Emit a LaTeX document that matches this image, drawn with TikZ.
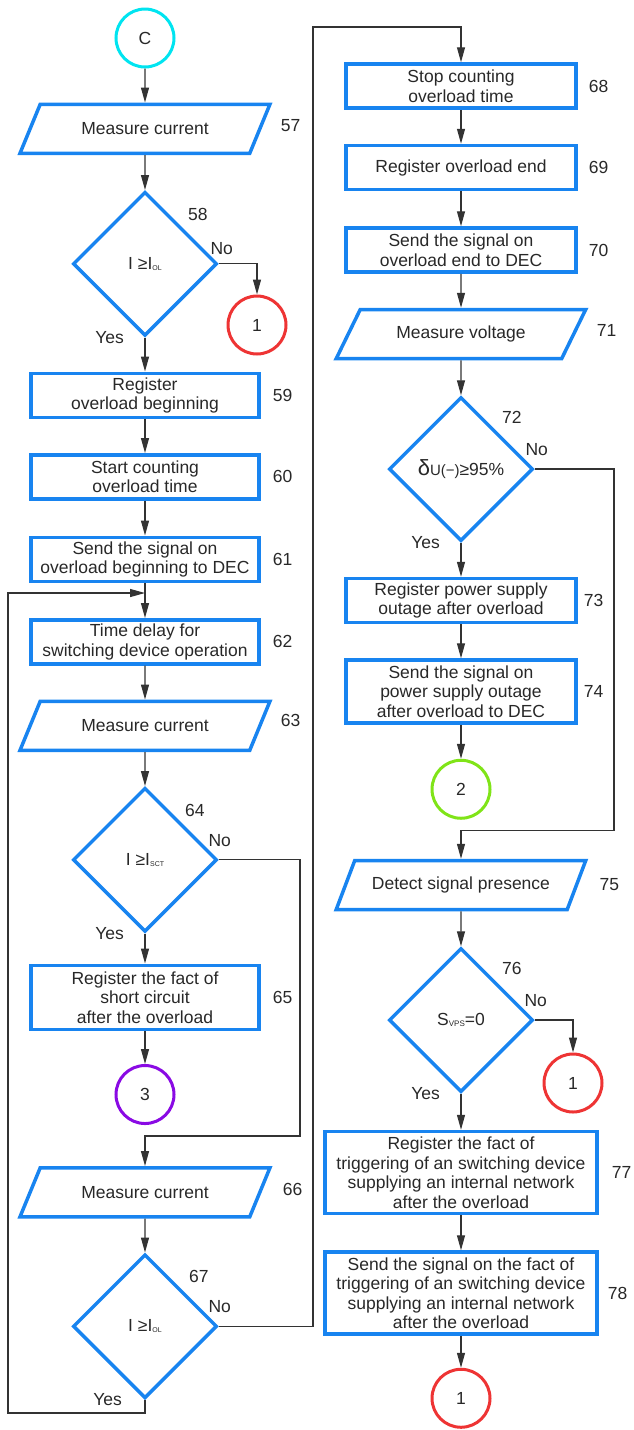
\documentclass[tikz,border=0pt]{standalone}
\usepackage{fontspec}
\setmainfont{Liberation Sans}
\usepackage{tikz}
\usetikzlibrary{arrows.meta,positioning,calc,shapes.geometric}
\definecolor{bblue}{RGB}{24,132,240}
\definecolor{ccyan}{RGB}{0,228,240}
\definecolor{cred}{RGB}{238,52,52}
\definecolor{cgreen}{RGB}{128,228,24}
\definecolor{cpurple}{RGB}{138,10,228}
\definecolor{ink}{RGB}{40,40,40}
\newcommand{\lowsub}[2]{\raisebox{-1pt}{\fontsize{#1}{#1}\selectfont #2}}

\begin{document}
\begin{tikzpicture}[x=1pt, y=-1pt,
  font=\fontsize{17.5}{19.5}\selectfont, text=ink,
  node distance=35pt,
  bx/.style={draw=bblue, line width=3.5pt, align=center,
    minimum width=228pt, minimum height=44pt, inner sep=2pt},
  io/.style={draw=bblue, line width=3.5pt, trapezium,
    trapezium left angle=52, trapezium right angle=128,
    trapezium stretches=true, minimum width=250pt, minimum height=49pt, inner sep=2pt},
  dec/.style={draw=bblue, line width=3.5pt, diamond,
    minimum width=144pt, minimum height=144pt, inner sep=0pt},
  con/.style={circle, line width=3pt, minimum size=58pt, inner sep=0pt},
  num/.style={inner sep=1pt},
  ln/.style={line width=1.2pt, draw=black!80},
  arr/.style={ln, -{Triangle[length=15pt,width=8pt]}}
]
\useasboundingbox (0,0) rectangle (633,1430);
\node[con, draw=ccyan] (cC) at (145,38) {C};
\node[io, below=34pt of cC] (p57) {Measure current};
\node[dec, below=35pt of p57] (d58) {I ≥I\lowsub{7}{OL}};
\node[bx, below=34pt of d58] (b59) {Register\\overload beginning};
\node[bx, below=34pt of b59] (b60) {Start counting\\overload time};
\node[bx, below=35pt of b60] (b61) {Send the signal on\\overload beginning to DEC};
\node[bx, below=35pt of b61] (b62) {Time delay for\\switching device operation};
\node[io, below=34pt of b62] (p63) {Measure current};
\node[dec, below=34pt of p63] (d64) {I ≥I\lowsub{7}{SCT}};
\node[bx, below=30pt of d64, minimum height=64pt] (b65) {Register the fact of\\short circuit\\after the overload};
\node[con, draw=cpurple, below=33pt of b65] (c3) {3};
\node[io, below=41pt of c3] (p66) {Measure current};
\node[dec, below=34pt of p66] (d67) {I ≥I\lowsub{7}{OL}};
\node[con, draw=cred] (c1a) at (257,325) {1};

\node[bx, minimum width=230pt] (b68) at (461,86) {Stop counting\\overload time};
\node[bx, minimum width=230pt, below=34pt of b68] (b69) {Register overload end};
\node[bx, minimum width=230pt, below=35pt of b69] (b70) {Send the signal on\\overload end to DEC};
\node[io, below=34pt of b70] (p71) {Measure voltage};
\node[dec, below=35pt of p71] (d72) {{\fontsize{22}{22}\selectfont δ}{\fontsize{15}{15}\selectfont U(−)}≥95\%};
\node[bx, minimum width=230pt, below=34pt of d72] (b73) {Register power supply\\outage after overload};
\node[bx, minimum width=230pt, minimum height=63pt, below=34pt of b73] (b74) {Send the signal on\\power supply outage\\after overload to DEC};
\node[con, draw=cgreen, below=34pt of b74] (c2) {2};
\node[io, below=39pt of c2] (p75) {Detect signal presence};
\node[dec, below=35pt of p75] (d76) {S\lowsub{8}{VPS}=0};
\node[bx, minimum width=272pt, minimum height=82pt, below=36pt of d76] (b77) {Register the fact of\\triggering of an switching device\\supplying an internal network\\after the overload};
\node[bx, minimum width=272pt, minimum height=82pt, below=35pt of b77] (b78) {Send the signal on the fact of\\triggering of an switching device\\supplying an internal network\\after the overload};
\node[con, draw=cred, below=32pt of b78] (c1c) {1};
\node[con, draw=cred] (c1b) at (573,1083) {1};

\node[num, right=18pt of p57.east, yshift=3pt] (n57) {57};
\node[num, right=11pt of b59] (n59) {59};
\node[num, right=11pt of b60] (n60) {60};
\node[num, right=11pt of b61] (n61) {61};
\node[num, right=11pt of b62] (n62) {62};
\node[num, right=18pt of p63.east, yshift=5pt] (n63) {63};
\node[num, right=11pt of b65] (n65) {65};
\node[num, right=20pt of p66.east, yshift=3pt] (n66) {66};
\node[num, right=10pt of b68] (n68) {68};
\node[num, right=10pt of b69] (n69) {69};
\node[num, right=10pt of b70] (n70) {70};
\node[num, right=20pt of p71.east, yshift=4pt] (n71) {71};
\node[num, right=5pt of b73] (n73) {73};
\node[num, right=5pt of b74] (n74) {74};
\node[num, right=20pt of p75.east] (n75) {75};
\node[num, right=12pt of b77] (n77) {77};
\node[num, right=8pt of b78] (n78) {78};

\node[num, above right=5pt and 5pt of d58.north east] (n58) {58};
\node[num, above right=5pt and 2pt of d64.north east] (n64) {64};
\node[num, above right=6pt and 6pt of d67.north east] (n67) {67};
\node[num, above right=7pt and 3pt of d72.north east] (n72) {72};
\node[num, above right=7pt and 3pt of d76.north east] (n76) {76};

\node[num, above=8pt of d58.east, xshift=3pt] (no58) {No};
\node[num, above=12pt of d64.east, xshift=1pt] (no64) {No};
\node[num, above=12pt of d67.east, xshift=1pt] (no67) {No};
\node[num, above=12pt of d72.east, xshift=2pt] (no72) {No};
\node[num, above=12pt of d76.east, xshift=1pt] (no76) {No};
\node[num, left=20pt of d58.south] (yes58) {Yes};
\node[num, left=20pt of d64.south] (yes64) {Yes};
\node[num, left=22pt of d67.south] (yes67) {Yes};
\node[num, left=20pt of d72.south] (yes72) {Yes};
\node[num, left=20pt of d76.south] (yes76) {Yes};

\coordinate (j62) at ($(b62.north)+(0,-25)$);
\coordinate (j66) at ($(p66.north)+(0,-30)$);
\coordinate (j75) at ($(p75.north)+(0,-28)$);
\coordinate (lft) at (8,0);
\coordinate (r64) at (300,0);
\coordinate (r67) at (313,0);
\coordinate (r72) at (614,0);
\coordinate (tp) at (0,27);

\draw[arr] (cC) -- (p57);
\draw[arr] (p57) -- (d58);
\draw[arr] (d58) -- (b59);
\draw[arr] (d58.east) -| (c1a);
\draw[arr] (b59) -- (b60);
\draw[arr] (b60) -- (b61);
\draw[arr] (b61) -- (b62);
\draw[arr] (b62) -- (p63);
\draw[arr] (p63) -- (d64);
\draw[arr] (d64) -- (b65);
\draw[arr] (b65) -- (c3);
\draw[arr] (d64.east) -| (r64 |- j66) -- (j66) -- (p66.north);
\draw[arr] (p66) -- (d67);
\draw[arr] (d67.south) -- ++(0,13) -| (lft |- j62) -- (j62);
\draw[arr] (d67.east) -| (r67 |- tp) -| (b68.north);
\draw[arr] (b68) -- (b69);
\draw[arr] (b69) -- (b70);
\draw[arr] (b70) -- (p71);
\draw[arr] (p71) -- (d72);
\draw[arr] (d72) -- (b73);
\draw[arr] (b73) -- (b74);
\draw[arr] (b74) -- (c2);
\draw[arr] (d72.east) -| (r72 |- j75) -- (j75) -- (p75.north);
\draw[arr] (p75) -- (d76);
\draw[arr] (d76.east) -| (c1b);
\draw[arr] (d76) -- (b77);
\draw[arr] (b77) -- (b78);
\draw[arr] (b78) -- (c1c);
\end{tikzpicture}
\end{document}
